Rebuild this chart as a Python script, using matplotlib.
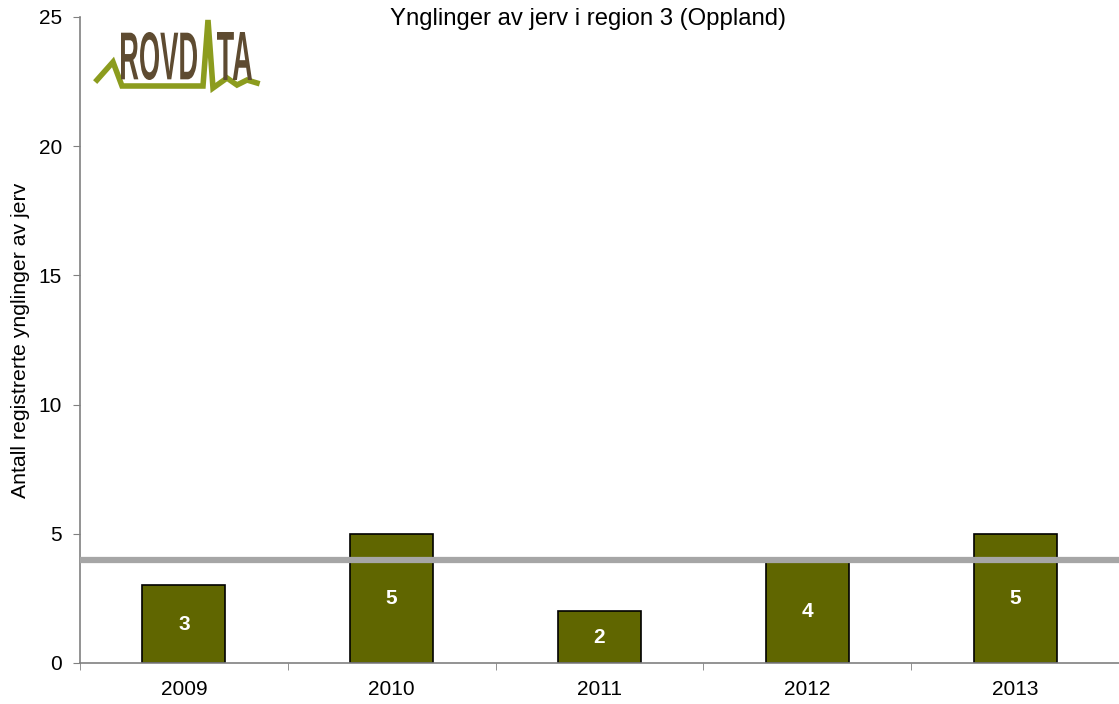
# Ynglinger av jerv i region 3 (Oppland)
import matplotlib
matplotlib.use("Agg")
import matplotlib.pyplot as plt
import numpy as np
from matplotlib.textpath import TextPath
from matplotlib.patches import PathPatch
from matplotlib.font_manager import FontProperties
from matplotlib.transforms import Affine2D

years = ['2009', '2010', '2011', '2012', '2013']
counts = [3, 5, 2, 4, 5]
target = 4

plt.rcParams['font.family'] = ['Liberation Sans', 'DejaVu Sans']

W, H = 1119, 704
fig = plt.figure(figsize=(W / 100, H / 100), dpi=100)
ax = fig.add_axes([80 / W, 41 / H, 1039 / W, 646 / H])

x = np.arange(len(years))
bars = ax.bar(x, counts, width=0.4, color='#606600', edgecolor='black', linewidth=1.2, zorder=2)
for b, v in zip(bars, counts):
    ax.text(b.get_x() + b.get_width() / 2, v / 2, str(v), ha='center', va='center',
            color='white', fontsize=15, fontweight='bold', zorder=4)

ax.axhline(target, color='#A6A6A6', linewidth=4.5, zorder=3)

ax.set_xlim(-0.5, len(years) - 0.5)
ax.set_ylim(0, 25)
ax.set_yticks([0, 5, 10, 15, 20, 25])
ax.set_xticks(x)
ax.set_xticklabels(years)
ax.set_xticks(np.arange(-0.5, len(years), 1.0), minor=True)
ax.tick_params(axis='x', which='major', length=0, labelsize=15, pad=12)
ax.tick_params(axis='x', which='minor', length=5, color='#808080', direction='out')
ax.tick_params(axis='y', length=5, color='#808080', labelsize=15, pad=8)

for s in ['top', 'right']:
    ax.spines[s].set_visible(False)
for s in ['left', 'bottom']:
    ax.spines[s].set_color('#808080')
    ax.spines[s].set_linewidth(1.2)

ax.set_ylabel('Antall registrerte ynglinger av jerv', fontsize=15.3, labelpad=6)
fig.text(588 / W, (H - 19) / H, 'Ynglinger av jerv i region 3 (Oppland)',
         ha='center', va='center', fontsize=17.2)

# logo (pixel positions, top-left origin)
def px(xp, yp):
    return xp / W, (H - yp) / H

lx = [97, 113, 122, 203, 208, 213, 227, 237, 247, 257]
ly = [80, 62, 86, 86, 20, 88, 78, 85, 80, 83]
lpts = [px(a, b) for a, b in zip(lx, ly)]
fig.add_artist(plt.Line2D([p[0] for p in lpts], [p[1] for p in lpts], transform=fig.transFigure,
                          color='#8C9C1E', linewidth=4, solid_joinstyle='miter', zorder=1))

fp = FontProperties(family='Liberation Sans', weight='bold')
for word, x0, x1 in [('ROVD', 121, 197), ('TA', 217, 252)]:
    tp = TextPath((0, 0), word, size=10, prop=fp)
    ext = tp.get_extents()
    (fx0, fy0), (fx1, fy1) = px(x0, 80), px(x1, 32)
    tr = (Affine2D().translate(-ext.x0, -ext.y0)
          .scale((fx1 - fx0) / ext.width, (fy1 - fy0) / ext.height)
          .translate(fx0, fy0) + fig.transFigure)
    fig.add_artist(PathPatch(tp, transform=tr, color='#5E4B31', lw=0, zorder=2))

fig.savefig('out.png', dpi=100)
